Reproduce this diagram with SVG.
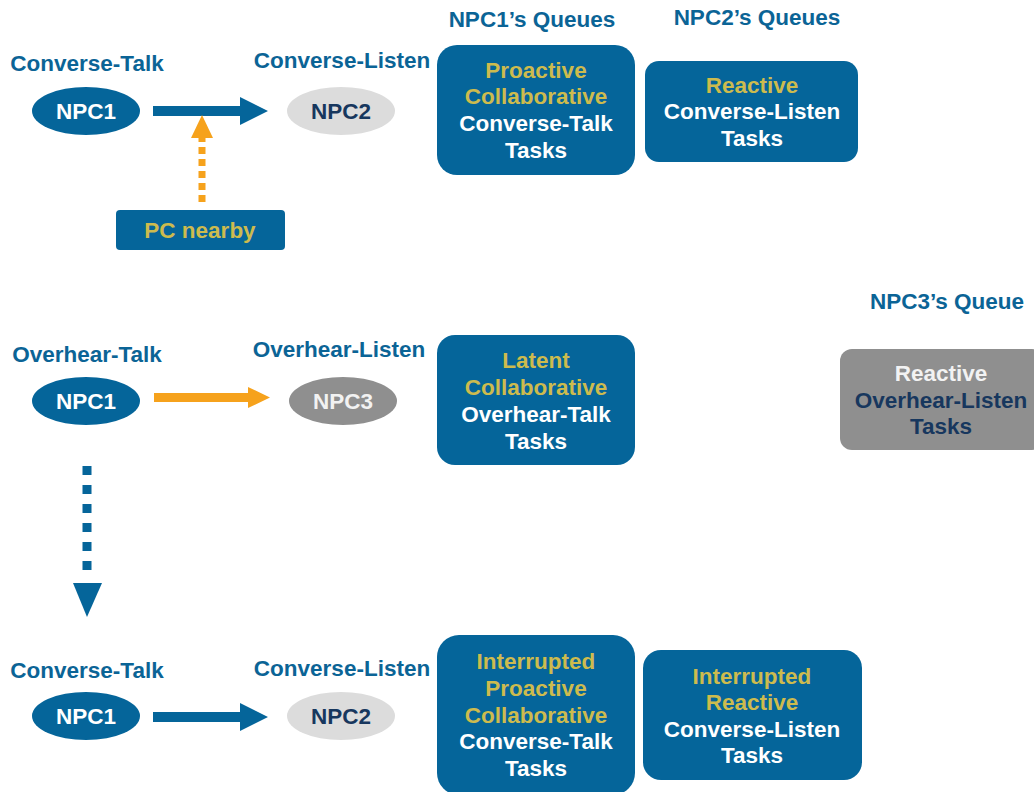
<svg xmlns="http://www.w3.org/2000/svg" width="1034" height="792" viewBox="0 0 1034 792">
<style>
text{font-family:"Liberation Sans",Arial,sans-serif;font-weight:bold;font-size:22.5px;text-anchor:middle}
.lbl{fill:#0b6496}
.w{fill:#ffffff}
.g{fill:#cdbb4e}
.n{fill:#17375e}
.blue{fill:#05659a}
.gray{fill:#8f8f8f}
.light{fill:#dcdcdc}
</style>
<rect width="1034" height="792" fill="#ffffff"/>
<g id="connectors">
<path class="blue" d="M153,106 H240 V97 L268,111 L240,125 V116 H153 Z"/>
<line x1="202" y1="202" x2="202" y2="138" stroke="#f6a21c" stroke-width="7" stroke-dasharray="7 5"/>
<polygon points="191,138 213,138 202,115" fill="#f6a21c"/>
<path d="M154,393 H248 V387 L270,397.5 L248,408 V402 H154 Z" fill="#f6a21c"/>
<line x1="87" y1="466" x2="87" y2="575" stroke="#05659a" stroke-width="9" stroke-dasharray="9 10"/>
<polygon points="73,583 102,583 87,617" class="blue"/>
<path class="blue" d="M153,712 H240 V703 L268,717 L240,731 V722 H153 Z"/>
</g>
<g id="labels">
<text class="lbl" x="87" y="71">Converse-Talk</text>
<text class="lbl" x="342" y="68">Converse-Listen</text>
<text class="lbl" x="532" y="27">NPC1’s Queues</text>
<text class="lbl" x="757" y="25">NPC2’s Queues</text>
<text class="lbl" x="87" y="362">Overhear-Talk</text>
<text class="lbl" x="339" y="357">Overhear-Listen</text>
<text class="lbl" x="947" y="309">NPC3’s Queue</text>
<text class="lbl" x="87" y="678">Converse-Talk</text>
<text class="lbl" x="342" y="676">Converse-Listen</text>
</g>
<g id="npc1-top"><ellipse class="blue" cx="86" cy="111" rx="54" ry="24"/><text class="w" x="86" y="119">NPC1</text></g>
<g id="npc2-top"><ellipse class="light" cx="341" cy="111" rx="54" ry="24"/><text class="n" x="341" y="119">NPC2</text></g>
<g id="pc-nearby"><rect class="blue" x="116" y="210" width="169" height="40" rx="4"/><text class="g" x="200" y="238">PC nearby</text></g>
<g id="npc1-queue-top"><rect class="blue" x="437" y="45" width="198" height="130" rx="20"/>
<text class="g" x="536" y="78">Proactive</text><text class="g" x="536" y="104">Collaborative</text><text class="w" x="536" y="131">Converse-Talk</text><text class="w" x="536" y="158">Tasks</text></g>
<g id="npc2-queue-top"><rect class="blue" x="645" y="61" width="213" height="101" rx="14"/>
<text class="g" x="752" y="93">Reactive</text><text class="w" x="752" y="119">Converse-Listen</text><text class="w" x="752" y="146">Tasks</text></g>
<g id="npc1-mid"><ellipse class="blue" cx="86" cy="401" rx="54" ry="24"/><text class="w" x="86" y="409">NPC1</text></g>
<g id="npc3-mid"><ellipse class="gray" cx="343" cy="401" rx="54" ry="24"/><text fill="#f2f2f2" x="343" y="409">NPC3</text></g>
<g id="npc1-queue-mid"><rect class="blue" x="437" y="335" width="198" height="130" rx="18"/>
<text class="g" x="536" y="368">Latent</text><text class="g" x="536" y="395">Collaborative</text><text class="w" x="536" y="422">Overhear-Talk</text><text class="w" x="536" y="449">Tasks</text></g>
<g id="npc3-queue"><rect class="gray" x="840" y="349" width="204" height="101" rx="12"/>
<text fill="#f2f2f2" x="941" y="381">Reactive</text><text class="n" x="941" y="408">Overhear-Listen</text><text class="n" x="941" y="434">Tasks</text></g>
<g id="npc1-bot"><ellipse class="blue" cx="86" cy="716" rx="54" ry="24"/><text class="w" x="86" y="724">NPC1</text></g>
<g id="npc2-bot"><ellipse class="light" cx="341" cy="716" rx="54" ry="24"/><text class="n" x="341" y="724">NPC2</text></g>
<g id="npc1-queue-bot"><rect class="blue" x="437" y="635" width="198" height="160" rx="22"/>
<text class="g" x="536" y="669">Interrupted</text><text class="g" x="536" y="696">Proactive</text><text class="g" x="536" y="723">Collaborative</text><text class="w" x="536" y="749">Converse-Talk</text><text class="w" x="536" y="776">Tasks</text></g>
<g id="npc2-queue-bot"><rect class="blue" x="643" y="650" width="219" height="130" rx="18"/>
<text class="g" x="752" y="684">Interrupted</text><text class="g" x="752" y="710">Reactive</text><text class="w" x="752" y="737">Converse-Listen</text><text class="w" x="752" y="763">Tasks</text></g>
</svg>
